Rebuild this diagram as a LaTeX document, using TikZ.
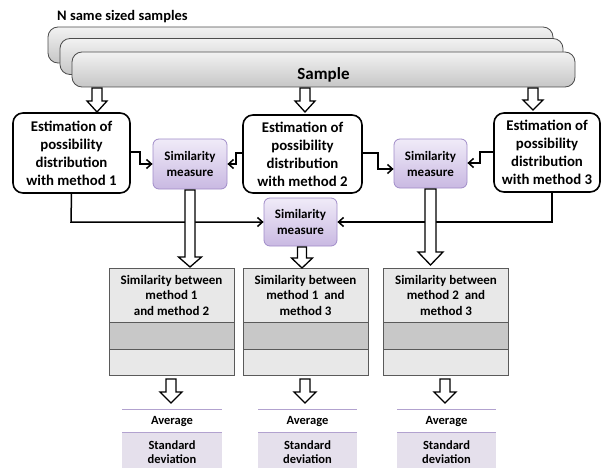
\documentclass[tikz,border=0pt]{standalone}
\usepackage{fontspec}
\setmainfont{Carlito}
\usetikzlibrary{arrows.meta}
\definecolor{simtop}{HTML}{F0EBF8}
\definecolor{simbot}{HTML}{C9B9E2}
\definecolor{simdraw}{HTML}{A08CC8}
\definecolor{smptop}{HTML}{F2F2F2}
\definecolor{smpbot}{HTML}{C6C6C6}
\definecolor{rowlight}{HTML}{E8E8E8}
\definecolor{rowdark}{HTML}{C8C8C8}
\definecolor{tabdraw}{HTML}{5A5A5A}
\definecolor{lav}{HTML}{E5E0EC}
\definecolor{lavline}{HTML}{B2A2CF}
\newcommand\hollowarrow[6]{%
  \draw[harrow] ({#1-#5},#2) -- ({#1-#5},#3) -- ({#1-#6},#3) -- (#1,#4) -- ({#1+#6},#3) -- ({#1+#5},#3) -- ({#1+#5},#2) -- cycle;}
\tikzset{
  smp/.style={draw=black!70, line width=0.8pt, rounded corners=10pt, top color=smptop, bottom color=smpbot, inner sep=0pt},
  est/.style={draw=black, line width=1.6pt, rounded corners=10pt, fill=white, align=center, inner sep=0pt, font=\bfseries\fontsize{14.8}{18}\selectfont},
  sim/.style={draw=simdraw, line width=0.8pt, rounded corners=6pt, top color=simtop, bottom color=simbot, align=center, inner sep=0pt, minimum width=73pt, minimum height=49pt, font=\bfseries\fontsize{13}{16}\selectfont},
  conn/.style={draw=black, line width=1.5pt, -{Straight Barb[length=5pt,width=9pt,line width=1.5pt]}},
  harrow/.style={draw=black, line width=1.3pt, fill=white, line join=miter},
  row/.style={draw=tabdraw, line width=0.8pt, inner sep=0pt, minimum width=125pt, align=center, font=\bfseries\fontsize{13}{15.5}\selectfont},
  avgline/.style={draw=lavline, line width=1pt},
  avgtxt/.style={font=\bfseries\fontsize{12.5}{13.5}\selectfont, align=center, inner sep=0pt},
}
\begin{document}
\begin{tikzpicture}[x=1pt,y=-1pt]
\useasboundingbox (0,0) rectangle (602,468);
% title
\node[anchor=west, inner sep=0pt, font=\bfseries\fontsize{14.5}{17}\selectfont] (title) at (57,17) {N same sized samples};
% stacked samples
\node[smp, minimum width=505pt, minimum height=36pt] (s3) at (300.5,45) {};
\node[smp, minimum width=503pt, minimum height=36pt] (s2) at (311.5,56.5) {};
\node[smp, minimum width=503pt, minimum height=35pt, font=\bfseries\fontsize{17}{20}\selectfont, text depth=0pt] (s1) at (323.5,69.5) {\raisebox{-9pt}{Sample}};
% estimation boxes
\node[est, minimum width=117pt, minimum height=80pt] (e1) at (71.5,153) {Estimation of\\possibility\\distribution\\with method 1};
\node[est, minimum width=119pt, minimum height=78pt] (e2) at (302.5,154) {Estimation of\\possibility\\distribution\\with method 2};
\node[est, minimum width=106pt, minimum height=79pt] (e3) at (547,152.5) {Estimation of\\possibility\\distribution\\with method 3};
% similarity measures
\node[sim, minimum width=74pt, minimum height=50pt] (m1) at (190,164) {Similarity\\measure};
\node[sim] (m2) at (430.5,163.5) {Similarity\\measure};
\node[sim, minimum height=48pt] (m3) at (300.5,222) {Similarity\\measure};
% connectors
\draw[conn] (e1.east |- 0,152) -- (140,152) -- (140,164) -- (m1.west |- 0,164);
\draw[conn] (e2.west |- 0,153) -- (236,153) -- (236,164) -- (m1.east |- 0,164);
\draw[conn] (e2.east |- 0,153) -- (378,153) -- (378,169) -- (m2.west |- 0,169);
\draw[conn] (e3.west |- 0,152) -- (480,152) -- (480,163) -- (m2.east |- 0,163);
\draw[conn] (e1.south) -- (71,222) -- (m3.west);
\draw[conn] (e3.south -| 552,0) -- (552,222) -- (m3.east);
% tables
\foreach \n/\cx/\txt in {1/171.5/{Similarity between\\method 1\\and method 2}, 2/305.5/{Similarity between\\method 1\ \ and\\method 3}, 3/446/{Similarity between\\method 2\ \ and\\method 3}}{
  \node[row, fill=rowlight, minimum height=54pt] (t\n a) at (\cx,295) {\txt};
  \node[row, fill=rowdark, minimum height=27pt] (t\n b) at (\cx,335.5) {};
  \node[row, fill=rowlight, minimum height=26pt] (t\n c) at (\cx,362) {};
}
% hollow arrows
\hollowarrow{97}{88}{101}{112}{5}{10}
\hollowarrow{305}{88}{101}{112}{5}{10}
\hollowarrow{533}{88}{100}{110}{5}{10}
\hollowarrow{190}{190}{257}{267}{5}{11.5}
\hollowarrow{430.5}{189}{252}{265}{5.5}{12.5}
\hollowarrow{302}{247}{258}{268}{4.5}{10.5}
\hollowarrow{171}{379}{392}{403}{5}{11}
\hollowarrow{305}{379}{392}{403}{5}{11}
\hollowarrow{445}{379}{392}{403}{5}{11}
% average / standard deviation
\foreach \n/\xa/\xb in {1/122/222, 2/258/357, 3/397/496}{
  \fill[lav] (\xa,432) rectangle (\xb,468);
  \draw[avgline] (\xa,409) -- (\xb,409);
  \draw[avgline] (\xa,432) -- (\xb,432);
  \node[avgtxt] (avg\n) at ({(\xa+\xb)/2},422) {Average};
  \node[avgtxt] (sd\n) at ({(\xa+\xb)/2},452) {Standard\\deviation};
}
\end{tikzpicture}
\end{document}
